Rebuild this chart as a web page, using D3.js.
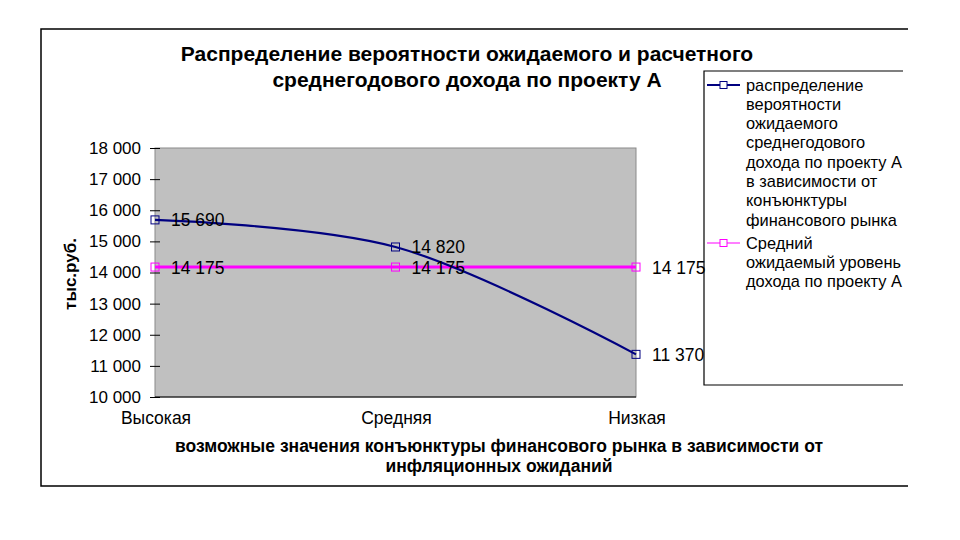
<!DOCTYPE html>
<html><head><meta charset="utf-8">
<script src="https://cdn.jsdelivr.net/npm/d3@7"></script>
<style>body{margin:0;background:#fff}svg{display:block;font-family:"Liberation Sans",Arial,sans-serif}</style>
</head><body>
<svg id="c" width="960" height="540"></svg>
<script>
const categories = ["Высокая", "Средняя", "Низкая"];
const seriesExpected = [15690, 14820, 11370];
const seriesAverage = [14175, 14175, 14175];
const yTicks = [10000, 11000, 12000, 13000, 14000, 15000, 16000, 17000, 18000];
const titleLines = ["Распределение вероятности ожидаемого и расчетного", "среднегодового дохода по проекту А"];
const xTitleLines = ["возможные значения конъюнктуры финансового рынка в зависимости от", "инфляционных ожиданий"];
const yTitle = "тыс.руб.";
const legend1 = ["распределение", "вероятности", "ожидаемого", "среднегодового", "дохода по проекту А", "в зависимости от", "конъюнктуры", "финансового рынка"];
const legend2 = ["Средний", "ожидаемый уровень", "дохода по проекту А"];

const svg = d3.select("#c");
const fmt = v => d3.format(",")(v).replace(/,/g, " ");

// outer frame (right side open)
svg.append("path").attr("d", "M908,29H41V486H908").attr("fill", "none").attr("stroke", "#000").attr("stroke-width", 1.5);

const L = 155, R = 636, T = 148, B = 397;
const x = d3.scalePoint().domain(categories).range([L, R]);
const y = d3.scaleLinear().domain([10000, 18000]).range([B, T]);

svg.append("rect").attr("x", L).attr("y", T).attr("width", R - L).attr("height", B - T)
  .attr("fill", "#c0c0c0").attr("stroke", "#8a8a8a").attr("stroke-width", 1);

// y axis
const yAxis = svg.append("g").attr("transform", `translate(${L},0)`)
  .call(d3.axisLeft(y).tickValues(yTicks).tickFormat(fmt).tickSize(0).tickPadding(14));
yAxis.select(".domain").remove();
yAxis.selectAll("text").attr("font-size", 17).attr("fill", "#000").attr("font-family", "Liberation Sans, Arial, sans-serif");
yAxis.selectAll(".tick").append("line").attr("x1", -5).attr("x2", 5).attr("stroke", "#000");

// x axis
svg.append("line").attr("x1", L).attr("x2", R).attr("y1", B).attr("y2", B).attr("stroke", "#000").attr("stroke-width", 1.2);
svg.append("g").selectAll("text").data(categories).join("text")
  .attr("x", d => x(d) + 1).attr("y", 424).attr("text-anchor", "middle").attr("font-size", 17.5).text(d => d);

// lines
const line = d3.line().x((d, i) => x(categories[i])).y(d => y(d));
svg.append("path").datum(seriesAverage).attr("d", line).attr("fill", "none").attr("stroke", "#ff00ff").attr("stroke-width", 3);
svg.append("path").datum(seriesExpected).attr("d", line.curve(d3.curveCatmullRom.alpha(0.5)))
  .attr("fill", "none").attr("stroke", "#000080").attr("stroke-width", 2.2);

function markers(data, color) {
  svg.append("g").selectAll("rect").data(data).join("rect")
    .attr("x", (d, i) => x(categories[i]) - 4).attr("y", d => y(d) - 4)
    .attr("width", 8).attr("height", 8).attr("fill", "none").attr("stroke", color).attr("stroke-width", 1);
}
markers(seriesAverage, "#ff00ff");
markers(seriesExpected, "#000080");

function labels(data) {
  svg.append("g").selectAll("text").data(data).join("text")
    .attr("x", (d, i) => x(categories[i]) + 16).attr("y", d => y(d) + 6.5)
    .attr("font-size", 17.5).attr("fill", "#000").text(fmt);
}
labels(seriesExpected);
labels(seriesAverage);

// title
svg.append("g").selectAll("text").data(titleLines).join("text")
  .attr("x", 467).attr("y", (d, i) => 61 + i * 26).attr("text-anchor", "middle")
  .attr("font-size", 21).attr("font-weight", "bold").text(d => d);

// x title
svg.append("g").selectAll("text").data(xTitleLines).join("text")
  .attr("x", 499).attr("y", (d, i) => 452 + i * 20).attr("text-anchor", "middle")
  .attr("font-size", 17.5).attr("font-weight", "bold").text(d => d);

// y title
svg.append("text").attr("transform", "translate(76,274) rotate(-90)").attr("text-anchor", "middle")
  .attr("font-size", 17).attr("font-weight", "bold").text(yTitle);

// legend
svg.append("path").attr("d", "M903,71H704V385H903").attr("fill", "none").attr("stroke", "#000").attr("stroke-width", 1.2);
function legendEntry(lines, y0, color) {
  svg.append("line").attr("x1", 707).attr("x2", 740).attr("y1", y0).attr("y2", y0).attr("stroke", color).attr("stroke-width", color === "#000080" ? 2 : 1.2);
  svg.append("rect").attr("x", 720).attr("y", y0 - 3.5).attr("width", 7).attr("height", 7).attr("fill", "#fff").attr("stroke", color);
  svg.append("g").selectAll("text").data(lines).join("text")
    .attr("x", 746).attr("y", (d, i) => y0 + 5.5 + i * 19.3).attr("font-size", 16.4).text(d => d);
}
legendEntry(legend1, 85, "#000080");
legendEntry(legend2, 243, "#ff00ff");
</script>
</body></html>
